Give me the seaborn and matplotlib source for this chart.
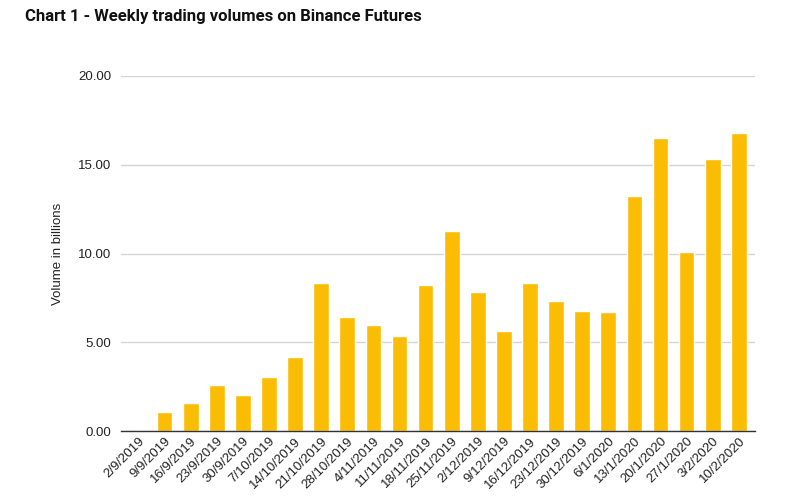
import pandas as pd
import numpy as np
import matplotlib.pyplot as plt
import seaborn as sns

# weekly volumes (billions)
weeks = ['2/9/2019', '9/9/2019', '16/9/2019', '23/9/2019', '30/9/2019', '7/10/2019',
         '14/10/2019', '21/10/2019', '28/10/2019', '4/11/2019', '11/11/2019', '18/11/2019',
         '25/11/2019', '2/12/2019', '9/12/2019', '16/12/2019', '23/12/2019', '30/12/2019',
         '6/1/2020', '13/1/2020', '20/1/2020', '27/1/2020', '3/2/2020', '10/2/2020']
volumes = [0.0, 1.09, 1.6, 2.57, 2.01, 3.02,
           4.19, 8.36, 6.4, 5.97, 5.37, 8.2,
           11.25, 7.81, 5.62, 8.32, 7.34, 6.78,
           6.72, 13.26, 16.49, 10.07, 15.32, 16.79]
yticks = [0, 5, 10, 15, 20]

df = pd.DataFrame({'Week': weeks, 'Volume': volumes})

sns.set_theme(style='white')
plt.rcParams['font.family'] = ['Liberation Sans', 'DejaVu Sans']

fig = plt.figure(figsize=(7.99, 5), dpi=100)
ax = fig.add_axes([121 / 799, 1 - 431 / 500, 634 / 799, 355 / 500])

sns.barplot(x='Week', y='Volume', data=df, ax=ax, color='#FBBC04',
            saturation=1, width=0.6, zorder=3)

ax.set_ylim(0, 20)
ax.set_xlim(-0.67, 23.62)
ax.set_yticks(yticks)
ax.set_yticklabels([f'{v:.2f}' for v in yticks])
ax.grid(axis='y', color='#d4d4d4', linewidth=1, zorder=0)
ax.grid(axis='x', visible=False)

for s in ['top', 'right', 'left']:
    ax.spines[s].set_visible(False)
ax.spines['bottom'].set_color('#333333')
ax.spines['bottom'].set_linewidth(1)
ax.spines['bottom'].set_zorder(4)

ax.tick_params(axis='both', length=0, labelsize=9.5, colors='#222222')
ax.tick_params(axis='y', pad=7)
ax.tick_params(axis='x', pad=3)
plt.setp(ax.get_xticklabels(), rotation=45, ha='right', rotation_mode='anchor')

ax.set_xlabel('')
ax.set_ylabel('Volume in billions', fontsize=9.5, color='#222222', labelpad=10)

fig.text(25 / 799, 1 - 17 / 500, 'Chart 1 - Weekly trading volumes on Binance Futures',
         fontsize=12, fontweight='bold', family=['Roboto', 'DejaVu Sans'],
         color='#111111', va='center', ha='left')

fig.savefig('out.png', dpi=100, facecolor='white')
